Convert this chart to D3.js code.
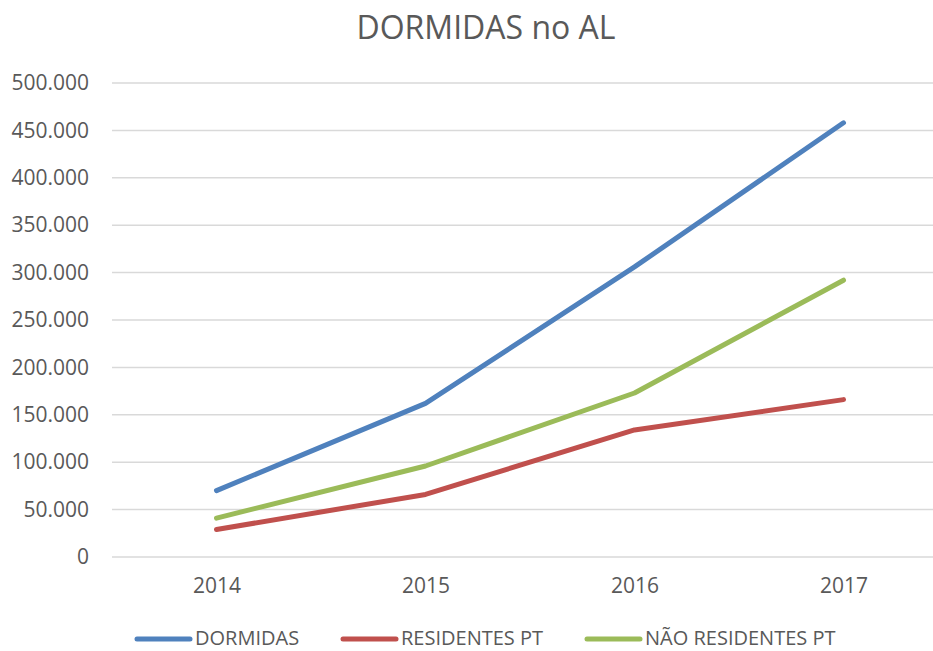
<!DOCTYPE html>
<html>
<head>
<meta charset="utf-8">
<script src="https://cdn.jsdelivr.net/npm/d3@7"></script>
<style>
  body { margin: 0; background: #fff; }
  svg { display: block; font-family: "Open Sans", sans-serif; }
</style>
</head>
<body>
<svg id="chart" width="933" height="651"></svg>
<script>
// Data
const years = ["2014", "2015", "2016", "2017"];
const dormidas = [70000, 162000, 306000, 458000];
const residentes = [29000, 66000, 134000, 166000];
const naoResidentes = [41000, 96000, 173000, 292000];
const yTicks = [0, 50000, 100000, 150000, 200000, 250000, 300000, 350000, 400000, 450000, 500000];

const series = [
  { name: "DORMIDAS", values: dormidas, color: "#4F81BD" },
  { name: "RESIDENTES PT", values: residentes, color: "#C0504D" },
  { name: "NÃO RESIDENTES PT", values: naoResidentes, color: "#9BBB59" }
];

const svg = d3.select("#chart");
// plot area runs a little past the right edge of the window, like the reference
const plot = { left: 112, right: 948, top: 83, bottom: 557 };
const textColor = "#595959";

const x = d3.scalePoint()
  .domain(years)
  .range([plot.left, plot.right])
  .padding(0.5);

const y = d3.scaleLinear()
  .domain([0, 500000])
  .range([plot.bottom, plot.top]);

// thousands separator is a dot
const fmt = d => d === 0 ? "0" : d3.format(",")(d).replace(/,/g, ".");

// Title
svg.append("text")
  .attr("x", 486)
  .attr("y", 39)
  .attr("text-anchor", "middle")
  .attr("font-size", 32)
  .attr("fill", textColor)
  .text("DORMIDAS no AL");

// Gridlines
svg.append("g")
  .selectAll("line")
  .data(yTicks)
  .join("line")
    .attr("x1", plot.left)
    .attr("x2", plot.right)
    .attr("y1", d => y(d))
    .attr("y2", d => y(d))
    .attr("stroke", "#D9D9D9")
    .attr("stroke-width", 1.5);

// Y axis labels
const yAxis = d3.axisLeft(y).tickValues(yTicks).tickFormat(fmt).tickSize(0).tickPadding(0);
svg.append("g")
  .attr("transform", `translate(89,0)`)
  .call(yAxis)
  .call(g => g.select(".domain").remove())
  .call(g => g.selectAll("text")
    .attr("font-size", 21)
    .attr("font-family", "'Open Sans', sans-serif")
    .attr("fill", textColor));

// X axis labels
const xAxis = d3.axisBottom(x).tickSize(0).tickPadding(0);
svg.append("g")
  .attr("transform", `translate(0,${plot.bottom + 21})`)
  .call(xAxis)
  .call(g => g.select(".domain").remove())
  .call(g => g.selectAll("text")
    .attr("font-size", 21)
    .attr("font-family", "'Open Sans', sans-serif")
    .attr("fill", textColor));

// Lines
const line = d3.line()
  .x((d, i) => x(years[i]))
  .y(d => y(d));

svg.append("g")
  .selectAll("path")
  .data(series)
  .join("path")
    .attr("d", d => line(d.values))
    .attr("fill", "none")
    .attr("stroke", d => d.color)
    .attr("stroke-width", 5)
    .attr("stroke-linecap", "round")
    .attr("stroke-linejoin", "round");

// Legend
const legendX = [137, 343, 587];
const legend = svg.append("g")
  .selectAll("g")
  .data(series)
  .join("g")
    .attr("transform", (d, i) => `translate(${legendX[i]},639)`);

legend.append("line")
  .attr("x1", 0)
  .attr("x2", 53)
  .attr("stroke", d => d.color)
  .attr("stroke-width", 5)
  .attr("stroke-linecap", "round");

legend.append("text")
  .attr("x", 58)
  .attr("y", 6)
  .attr("font-size", 20)
  .attr("fill", textColor)
  .text(d => d.name);
</script>
</body>
</html>
